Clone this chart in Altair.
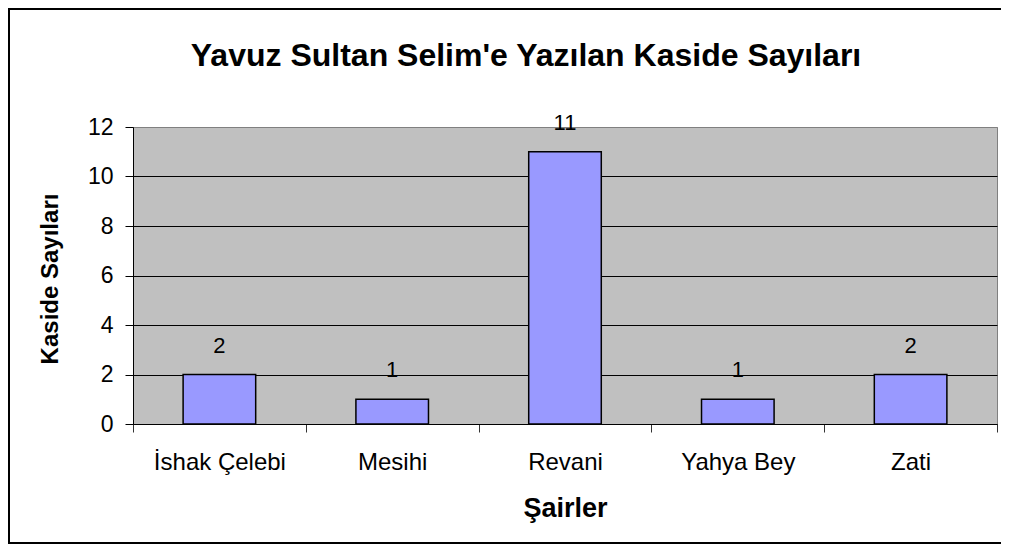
import altair as alt
import pandas as pd

poets = ["İshak Çelebi", "Mesihi", "Revani", "Yahya Bey", "Zati"]
counts = [2, 1, 11, 1, 2]
y_ticks = [0, 2, 4, 6, 8, 10, 12]
title_text = "Yavuz Sultan Selim'e Yazılan Kaside Sayıları"
x_title = "Şairler"
y_title = "Kaside Sayıları"

df = pd.DataFrame({"Şair": poets, "Sayı": counts})
FONT = "Liberation Sans"
W, H = 864, 297

x_enc = alt.X(
    "Şair:N",
    sort=poets,
    scale=alt.Scale(paddingInner=0, paddingOuter=0),
    axis=alt.Axis(
        title=x_title,
        titleFont=FONT, titleFontSize=27, titleFontWeight="bold", titleColor="black",
        titleY=92, titleBaseline="alphabetic",
        labelFont=FONT, labelFontSize=24, labelColor="black", labelAngle=0,
        labelBaseline="alphabetic", labelPadding=37,
        tickBand="extent", tickSize=8, tickColor="#333333", tickWidth=1,
        domainColor="black", domainWidth=1, grid=False,
    ),
)
y_enc = alt.Y(
    "Sayı:Q",
    scale=alt.Scale(domain=[0, 12], nice=False),
    axis=alt.Axis(
        values=y_ticks,
        title=y_title,
        titleFont=FONT, titleFontSize=24, titleFontWeight="bold", titleColor="black",
        titleX=-71, titleY=H / 2 + 3, titleAlign="center", titleBaseline="bottom", titleAngle=270,
        labelFont=FONT, labelFontSize=23, labelColor="black", labelPadding=12,
        tickSize=8, tickColor="black", tickWidth=1,
        domainColor="black", domainWidth=1,
        grid=True, gridWidth=1,
        gridColor={"condition": {"test": "datum.value === 12", "value": "#808080"}, "value": "black"},
    ),
)

base = alt.Chart(df)

bars = base.mark_bar(
    width={"band": 0.42}, color="#9999FF", stroke="black", strokeWidth=1.5
).encode(x=x_enc, y=y_enc)

labels = base.mark_text(
    font=FONT, fontSize=22, color="black", baseline="alphabetic", dy=-22
).encode(x=alt.X("Şair:N", sort=poets), y="Sayı:Q", text="Sayı:Q")

title_df = pd.DataFrame({"t": [title_text]})
title = alt.Chart(title_df).mark_text(
    font=FONT, fontSize=32, fontWeight="bold", color="black", baseline="alphabetic", align="center"
).encode(text="t:N", x=alt.value(393), y=alt.value(-61))

BOTTOM = 416
frame_top = alt.Chart(title_df).mark_rule(stroke="black", strokeWidth=2).encode(
    x=alt.value(-125), x2=alt.value(W + 10), y=alt.value(-118))
frame_bottom = alt.Chart(title_df).mark_rule(stroke="black", strokeWidth=2).encode(
    x=alt.value(-125), x2=alt.value(W + 10), y=alt.value(BOTTOM))
frame_left = alt.Chart(title_df).mark_rule(stroke="black", strokeWidth=2).encode(
    x=alt.value(-124), y=alt.value(-119), y2=alt.value(BOTTOM + 1))

chart = alt.layer(frame_top, frame_bottom, frame_left, bars, labels, title).properties(
    width=W, height=H,
    background="white",
    autosize=alt.AutoSizeParams(type="none"),
    padding={"left": 125, "top": 119, "right": 4, "bottom": 128},
).configure_view(
    fill="#C0C0C0", stroke="#808080", strokeWidth=1
)

chart.save("out.html", embed_options={"renderer": "svg", "actions": False})
